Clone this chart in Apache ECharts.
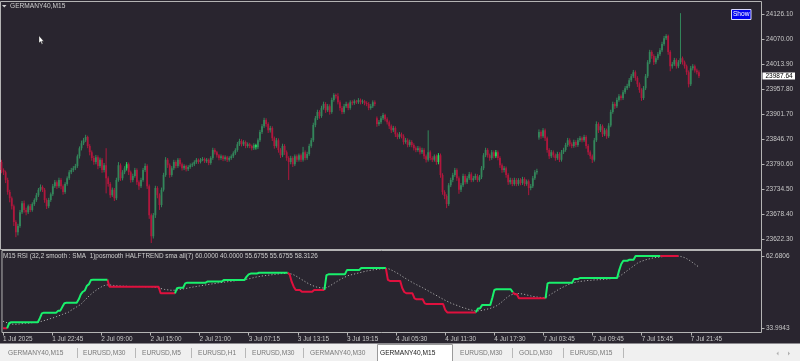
<!DOCTYPE html>
<html><head><meta charset="utf-8">
<script src="https://cdn.jsdelivr.net/npm/echarts@6/dist/echarts.min.js"></script>
<style>html,body{margin:0;padding:0;background:#29252f;overflow:hidden}#c{width:800px;height:361px}</style>
</head><body><div id="c"></div>
<script>
const symbolTitle = 'GERMANY40,M15';
const rsiTitle = 'M15 RSI (32,2 smooth : SMA  1)posmooth HALFTREND sma all(7) 60.0000 40.0000 55.6755 55.6755 58.3126';
const xTickLabels = ['1 Jul 2025','1 Jul 22:45','2 Jul 09:00','2 Jul 15:00','2 Jul 21:00','3 Jul 07:15','3 Jul 13:15','3 Jul 19:15','4 Jul 05:30','4 Jul 11:30','4 Jul 17:30','7 Jul 03:45','7 Jul 09:45','7 Jul 15:45','7 Jul 21:45'];
const priceTicks = [24126.10,24070.00,24013.90,23957.80,23901.70,23846.70,23790.60,23734.50,23678.40,23622.30];
const rsiTicks = [33.9943, 62.6806];
const lastPrice = 23987.64;
const tabs = ['GERMANY40,M15','EURUSD,M30','EURUSD,M5','EURUSD,H1','EURUSD,M30','GERMANY40,M30','GERMANY40,M15','EURUSD,M30','GOLD,M30','EURUSD,M15'];
const activeTab = 6;

const opens = [
23795,23777,23772,23755,23728,23714,23696,23661,23638,23652,
23683,23703,23688,23683,23696,23688,23701,23710,23721,23733,
23739,23733,23710,23696,23710,23723,23741,23750,23741,23755,
23741,23728,23746,23759,23772,23777,23781,23786,23808,23826,
23837,23844,23851,23831,23817,23804,23795,23806,23786,23800,
23777,23788,23759,23746,23721,23733,23714,23755,23788,23759,
23772,23781,23790,23772,23755,23764,23777,23750,23741,23755,
23777,23786,23741,23676,23629,23676,23737,23721,23699,23733,
23766,23800,23788,23766,23781,23795,23786,23800,23790,23781,
23786,23779,23784,23788,23790,23795,23800,23795,23800,23802,
23797,23800,23793,23804,23822,23817,23810,23804,23808,23802,
23806,23800,23804,23808,23815,23822,23835,23842,23835,23840,
23831,23835,23831,23826,23833,23828,23844,23862,23875,23889,
23880,23866,23871,23848,23831,23844,23822,23810,23831,23817,
23804,23795,23804,23790,23808,23800,23810,23800,23817,23804,
23813,23831,23844,23878,23893,23907,23898,23916,23925,23911,
23920,23907,23934,23945,23942,23929,23916,23907,23920,23925,
23916,23929,23927,23931,23929,23934,23929,23931,23927,23925,
23916,23920,23929,23893,23880,23884,23893,23900,23891,23884,
23875,23866,23871,23857,23851,23857,23853,23840,23844,23833,
23840,23833,23826,23822,23826,23817,23822,23808,23800,23817,
23804,23800,23808,23795,23810,23766,23728,23719,23701,23743,
23755,23766,23777,23759,23733,23743,23764,23750,23759,23768,
23755,23759,23764,23755,23761,23781,23810,23822,23810,23804,
23817,23808,23817,23804,23788,23777,23781,23766,23750,23755,
23746,23755,23746,23755,23748,23757,23746,23752,23737,23741,
23759,23772,23850,23862,23853,23866,23848,23822,23808,23817,
23810,23804,23813,23800,23817,23822,23833,23844,23835,23831,
23840,23833,23844,23848,23844,23851,23831,23817,23808,23800,
23844,23880,23866,23875,23857,23866,23853,23877,23907,23925,
23920,23934,23942,23938,23951,23960,23965,23978,23987,23996,
23983,23969,23956,23938,23960,23987,24018,24041,24032,24018,
24027,24036,24045,24059,24072,24077,24041,24009,24014,24023,
24009,24018,24027,24018,24009,23996,23969,24005,24009,24000,
23996];
const closes = [
23777,23772,23755,23728,23714,23696,23661,23638,23652,23683,
23703,23688,23683,23696,23688,23701,23710,23721,23733,23739,
23733,23710,23696,23710,23723,23741,23750,23741,23755,23741,
23728,23746,23759,23772,23777,23781,23786,23808,23826,23837,
23844,23851,23831,23817,23804,23795,23806,23786,23800,23777,
23788,23759,23746,23721,23733,23714,23755,23788,23759,23772,
23781,23790,23772,23755,23764,23777,23750,23741,23755,23777,
23786,23741,23676,23629,23676,23737,23721,23699,23733,23766,
23800,23788,23766,23781,23795,23786,23800,23790,23781,23786,
23779,23784,23788,23790,23795,23800,23795,23800,23802,23797,
23800,23793,23804,23822,23817,23810,23804,23808,23802,23806,
23800,23804,23808,23815,23822,23835,23842,23835,23840,23831,
23835,23831,23826,23833,23828,23844,23862,23875,23889,23880,
23866,23871,23848,23831,23844,23822,23810,23831,23817,23804,
23795,23804,23790,23808,23800,23810,23800,23817,23804,23813,
23831,23844,23878,23893,23907,23898,23916,23925,23911,23920,
23907,23934,23945,23942,23929,23916,23907,23920,23925,23916,
23929,23927,23931,23929,23934,23929,23931,23927,23925,23916,
23920,23929,23925,23880,23884,23893,23900,23891,23884,23875,
23866,23871,23857,23851,23857,23853,23840,23844,23833,23840,
23833,23826,23822,23826,23817,23822,23808,23800,23817,23804,
23800,23808,23795,23810,23766,23728,23719,23701,23743,23755,
23766,23777,23759,23733,23743,23764,23750,23759,23768,23755,
23759,23764,23755,23761,23781,23810,23822,23810,23804,23817,
23808,23817,23804,23788,23777,23781,23766,23750,23755,23746,
23755,23746,23755,23748,23757,23746,23752,23737,23741,23759,
23772,23775,23862,23853,23866,23848,23822,23808,23817,23810,
23804,23813,23800,23817,23822,23833,23844,23835,23831,23840,
23833,23844,23848,23844,23851,23831,23817,23808,23800,23844,
23880,23866,23875,23857,23866,23853,23877,23907,23925,23920,
23934,23942,23938,23951,23960,23965,23978,23987,23996,23983,
23969,23956,23938,23960,23987,24018,24041,24032,24018,24027,
24036,24045,24059,24072,24077,24041,24009,24014,24023,24009,
24018,24027,24018,24009,23996,23969,24005,24009,24000,23996,
23987.64];
const highs = [
23800,23781,23776,23760,23733,23718,23700,23665,23657,23688,
23708,23709,23693,23700,23701,23705,23714,23726,23737,23745,
23743,23737,23714,23715,23727,23746,23755,23754,23760,23759,
23745,23750,23763,23777,23782,23786,23791,23812,23830,23843,
23849,23856,23854,23835,23821,23809,23811,23810,23805,23804,
23793,23826,23763,23750,23738,23737,23760,23795,23792,23777,
23786,23795,23794,23776,23769,23782,23781,23754,23760,23782,
23792,23790,23745,23680,23681,23742,23741,23725,23738,23771,
23806,23804,23792,23786,23800,23799,23804,23804,23794,23790,
23789,23788,23792,23794,23799,23804,23803,23804,23806,23805,
23804,23803,23808,23827,23826,23820,23813,23812,23811,23810,
23809,23808,23812,23819,23826,23840,23847,23846,23844,23843,
23839,23838,23834,23837,23836,23848,23867,23880,23894,23893,
23884,23876,23875,23852,23849,23848,23826,23836,23835,23821,
23808,23809,23808,23812,23812,23814,23814,23829,23821,23818,
23836,23849,23883,23898,23912,23911,23921,23930,23929,23925,
23924,23939,23949,23948,23949,23933,23920,23925,23930,23928,
23933,23933,23935,23934,23938,23937,23935,23934,23931,23929,
23925,23933,23933,23897,23889,23898,23905,23903,23895,23888,
23879,23876,23875,23861,23862,23861,23857,23849,23848,23845,
23844,23837,23830,23831,23830,23827,23826,23812,23866,23821,
23808,23812,23812,23815,23814,23770,23732,23723,23748,23760,
23771,23782,23781,23763,23748,23769,23768,23764,23773,23772,
23764,23769,23768,23766,23786,23815,23827,23826,23814,23822,
23821,23822,23821,23808,23792,23786,23785,23770,23760,23759,
23760,23759,23759,23759,23762,23761,23756,23756,23746,23764,
23777,23780,23868,23866,23871,23870,23852,23826,23822,23821,
23814,23818,23817,23822,23827,23838,23849,23848,23839,23845,
23844,23849,23853,23852,23856,23855,23835,23821,23812,23849,
23886,23884,23880,23879,23871,23870,23882,23912,23930,23929,
23939,23947,23946,23956,23965,23970,23983,23992,24001,24000,
23987,23973,23960,23965,23992,24023,24046,24045,24036,24032,
24041,24050,24064,24077,24081,24080,24045,24019,24028,24027,
24023,24128,24031,24022,24013,24000,24010,24014,24013,24004,
24000];
const lows = [
23770,23766,23748,23722,23705,23689,23652,23627,23631,23648,
23679,23682,23676,23679,23683,23684,23697,23706,23717,23729,
23728,23704,23690,23692,23706,23719,23737,23735,23737,23734,
23722,23724,23742,23755,23768,23773,23777,23782,23803,23821,
23833,23840,23826,23810,23798,23789,23790,23779,23782,23771,
23772,23725,23740,23715,23717,23708,23710,23751,23753,23754,
23768,23776,23766,23749,23750,23760,23744,23733,23737,23751,
23773,23735,23668,23614,23624,23670,23714,23688,23694,23729,
23762,23782,23760,23762,23777,23781,23782,23785,23776,23777,
23774,23775,23780,23784,23786,23791,23791,23792,23797,23793,
23793,23788,23789,23800,23812,23805,23799,23800,23797,23798,
23795,23796,23800,23804,23811,23818,23831,23830,23831,23826,
23827,23826,23821,23822,23823,23824,23840,23858,23871,23874,
23860,23861,23842,23825,23827,23816,23804,23806,23811,23798,
23755,23790,23784,23786,23795,23796,23795,23796,23799,23800,
23809,23827,23840,23873,23889,23892,23894,23912,23905,23907,
23901,23903,23930,23937,23924,23910,23902,23903,23916,23911,
23912,23922,23923,23925,23925,23924,23925,23922,23920,23911,
23912,23916,23920,23874,23876,23880,23889,23886,23879,23869,
23860,23862,23851,23846,23847,23848,23834,23836,23828,23829,
23828,23821,23817,23818,23812,23813,23802,23794,23796,23799,
23795,23796,23789,23790,23760,23722,23712,23692,23697,23739,
23750,23762,23753,23724,23728,23739,23745,23746,23755,23750,
23751,23755,23750,23751,23757,23777,23806,23805,23798,23800,
23803,23804,23799,23782,23771,23772,23760,23744,23745,23741,
23742,23741,23742,23743,23744,23741,23742,23721,23732,23737,
23755,23767,23845,23847,23849,23842,23816,23802,23804,23805,
23798,23800,23795,23796,23813,23818,23829,23830,23826,23827,
23828,23829,23840,23839,23840,23825,23811,23802,23793,23796,
23840,23860,23862,23851,23853,23847,23849,23873,23903,23914,
23916,23930,23933,23934,23947,23956,23961,23974,23983,23977,
23963,23950,23932,23934,23956,23983,24014,24026,24012,24014,
24023,24032,24041,24055,24068,24035,23998,24004,24010,24004,
24005,24014,24013,24004,23990,23962,23965,24000,23995,23991,
23983];
const brightBars = [61, 124, 213, 241];

// RSI HalfTrend value per bar
const htValues = [
34.0,34.0,34.0,36.0,36.4,36.4,36.4,36.4,36.4,36.4,
36.4,36.4,36.4,36.4,36.4,36.4,36.4,36.4,38.0,39.9,
40.2,40.2,40.2,40.2,40.2,40.2,40.2,41.0,41.0,42.5,
43.9,44.1,44.1,44.1,44.1,44.1,44.1,45.5,47.5,48.5,
49.0,50.9,51.5,53.2,53.3,53.3,53.3,53.3,53.3,53.3,
53.3,53.3,50.5,50.5,50.5,50.5,50.5,50.5,50.5,50.5,
50.5,50.5,50.5,50.5,50.5,50.5,50.5,50.5,50.5,50.5,
50.5,50.5,50.5,50.5,50.5,50.5,50.5,47.9,47.9,47.9,
47.9,47.9,47.9,47.9,47.9,49.9,50.1,50.1,50.1,51.8,
52.1,52.1,52.1,52.1,52.1,52.1,52.1,52.1,52.1,52.1,
52.6,52.6,52.6,52.6,52.6,52.6,52.6,52.6,53.2,53.2,
53.2,53.2,53.2,53.2,53.2,53.2,53.2,53.2,53.2,54.5,
55.4,55.7,55.7,55.7,55.7,56.05,56.05,56.05,56.05,56.05,
56.05,56.05,56.05,56.05,56.05,56.05,56.05,56.05,56.05,56.05,
55.4,52.5,50.5,49.2,49.2,49.2,48.5,48.5,48.5,48.5,
48.5,48.5,49.2,49.2,49.2,49.2,49.2,49.2,55.1,55.4,
55.4,55.4,55.4,55.4,55.4,55.4,55.4,55.4,57.1,57.1,
57.1,57.1,57.1,57.1,57.1,57.9,57.9,57.9,57.9,57.9,
57.9,57.9,57.9,57.9,57.9,57.9,57.9,57.9,53.2,52.8,
52.8,52.8,52.8,52.8,52.8,50.0,48.4,47.9,47.9,47.9,
47.9,45.9,45.5,45.5,45.5,45.5,43.9,43.6,43.6,43.6,
43.6,43.6,43.6,43.6,43.6,43.6,41.3,40.3,40.3,40.3,
40.3,40.3,40.3,40.3,40.3,40.3,40.3,40.3,40.3,40.3,
40.3,40.3,41.9,41.9,43.2,43.2,43.2,43.2,43.2,46.0,
49.2,49.5,49.5,49.5,49.5,49.5,49.5,49.5,49.5,48.3,
47.5,47.5,45.9,45.9,45.9,45.9,45.9,45.9,45.9,45.9,
45.9,45.9,45.9,45.9,45.9,45.9,51.8,52.1,52.1,52.1,
52.1,52.1,52.1,52.1,52.1,52.1,52.1,52.1,52.1,53.6,
53.6,53.6,54.0,54.0,54.0,54.0,54.0,54.0,54.0,54.0,
54.0,54.0,54.0,54.0,54.0,54.0,54.0,54.0,54.0,54.0,
54.0,57.1,59.5,60.8,60.8,60.8,61.2,61.2,61.2,62.68,
62.68,62.68,62.68,62.68,62.68,62.68,62.68,62.68,62.68,62.68,
62.68,62.68,62.68,62.68,62.68,62.68,62.68,62.68,62.68,62.68,
62.68,62.68,59.8,59.4,59.4,59.4,59.4,57.5,56.7,56.3,
55.68];
// HalfTrend direction per bar: 1 = up (green), 0 = down (red)
const htTrend = [
0,0,0,1,1,1,1,1,1,1, 1,1,1,1,1,1,1,1,1,1, 1,1,1,1,1,1,1,1,1,1,
1,1,1,1,1,1,1,1,1,1, 1,1,1,1,1,1,1,1,1,1, 1,1,0,0,0,0,0,0,0,0,
0,0,0,0,0,0,0,0,0,0, 0,0,0,0,0,0,0,0,0,0, 0,0,0,0,0,1,1,1,1,1,
1,1,1,1,1,1,1,1,1,1, 1,1,1,1,1,1,1,1,1,1, 1,1,1,1,1,1,1,1,1,1,
1,1,1,1,1,1,1,1,1,1, 1,1,1,1,1,1,1,1,1,1, 0,0,0,0,0,0,0,0,0,0,
0,0,0,0,0,0,0,0,1,1, 1,1,1,1,1,1,1,1,1,1, 1,1,1,1,1,1,1,1,1,1,
1,1,1,1,1,1,1,1,0,0, 0,0,0,0,0,0,0,0,0,0, 0,0,0,0,0,0,0,0,0,0,
0,0,0,0,0,0,0,0,0,0, 0,0,0,0,0,0,0,0,0,0, 0,0,1,1,1,1,1,1,1,1,
1,1,1,1,1,1,1,1,1,1, 0,0,0,0,0,0,0,0,0,0, 0,0,0,0,0,0,1,1,1,1,
1,1,1,1,1,1,1,1,1,1, 1,1,1,1,1,1,1,1,1,1, 1,1,1,1,1,1,1,1,1,1,
1,1,1,1,1,1,1,1,1,1, 1,1,1,1,1,1,1,1,1,1, 1,1,0,0,0,0,0,0,0,0,
0];
// dotted signal (SMA of RSI)
const rsiSignal = [
36.8,36.5,36.2,35.9,35.7,35.6,35.6,35.6,35.7,35.8,
35.9,36.0,36.0,36.1,36.2,36.3,36.3,36.4,36.6,36.8,
37.0,37.3,37.5,37.8,38.0,38.3,38.6,38.9,39.2,39.5,
39.8,40.1,40.4,41.0,41.5,42.0,42.5,43.0,43.5,44.3,
45.2,46.0,46.8,47.5,48.2,48.8,49.4,49.9,50.4,50.8,
51.1,51.2,51.2,51.1,51.0,50.9,50.8,50.8,50.7,50.7,
50.7,50.6,50.6,50.6,50.6,50.6,50.6,50.6,50.6,50.5,
50.5,50.5,50.5,50.4,50.3,50.2,50.0,49.8,49.6,49.4,
49.3,49.2,49.1,49.1,49.1,49.2,49.4,49.5,49.6,49.8,
49.9,50.1,50.2,50.4,50.5,50.7,50.8,50.9,51.1,51.2,
51.3,51.5,51.6,51.7,51.8,52.0,52.1,52.2,52.3,52.4,
52.5,52.6,52.7,52.8,52.9,53.0,53.0,53.1,53.2,53.4,
53.6,53.8,54.0,54.2,54.4,54.5,54.7,54.8,54.9,55.0,
55.1,55.2,55.3,55.4,55.5,55.6,55.7,55.7,55.8,55.8,
55.7,55.5,55.2,54.8,54.3,53.8,53.3,52.8,52.3,51.8,
51.4,51.0,50.7,50.4,50.2,50.1,50.0,50.0,50.1,50.5,
51.0,51.5,52.0,52.5,53.0,53.5,53.9,54.3,54.7,55.0,
55.2,55.4,55.6,55.8,56.0,56.2,56.4,56.6,56.8,56.9,
57.1,57.2,57.3,57.4,57.5,57.6,57.7,57.8,57.7,57.4,
57.0,56.6,56.1,55.7,55.2,54.6,54.1,53.6,53.1,52.6,
52.2,51.7,51.3,50.9,50.5,50.1,49.6,49.2,48.7,48.2,
47.8,47.3,46.9,46.4,46.0,45.5,45.1,44.7,44.3,43.9,
43.6,43.3,43.0,42.7,42.4,42.1,41.9,41.6,41.4,41.2,
41.0,40.9,40.9,41.0,41.1,41.3,41.5,41.7,41.9,42.2,
42.5,42.9,43.4,44.0,44.7,45.4,46.1,46.7,47.2,47.5,
47.7,47.8,47.8,47.7,47.6,47.4,47.2,47.0,46.8,46.6,
46.5,46.4,46.3,46.2,46.2,46.3,46.7,47.2,47.7,48.2,
48.7,49.2,49.7,50.1,50.5,50.9,51.3,51.6,51.9,52.1,
52.3,52.5,52.6,52.7,52.8,52.9,53.0,53.0,53.1,53.2,
53.2,53.3,53.3,53.4,53.5,53.5,53.6,53.7,53.8,53.9,
54.2,54.6,55.1,55.7,56.3,56.9,57.5,58.1,58.7,59.3,
59.9,60.3,60.6,60.9,61.2,61.4,61.6,61.8,62.0,62.1,
62.2,62.3,62.4,62.5,62.5,62.6,62.6,62.6,62.6,62.6,
62.6,62.5,62.3,62.0,61.6,61.1,60.6,60.0,59.4,58.8,
58.31];

const totalSlots = 371; // bar slots across the chart width (incl. right shift)
const categories = Array.from({length: totalSlots}, (_, i) => 'bar' + i);

const FONT = '"Liberation Sans", Arial, sans-serif';
const TXT = '#c8c8c8';
const FRAME = '#b4b4b4';
const UP = '#33875b', DOWN = '#b0173d', BRIGHT = '#22e05e';
const HT_UP = '#19f06c', HT_DN = '#e0103e';

const candleData = closes.map((c, i) => [i, opens[i], c, lows[i], highs[i]]);
function renderCandle(params, api) {
  const i = api.value(0);
  const o = api.value(1), c = api.value(2), l = api.value(3), h = api.value(4);
  const pO = api.coord([i, o]), pC = api.coord([i, c]);
  const pL = api.coord([i, l]), pH = api.coord([i, h]);
  const x = pO[0];
  const col = brightBars.includes(params.dataIndex) ? BRIGHT : (c >= o ? UP : DOWN);
  const top = Math.min(pO[1], pC[1]);
  const hgt = Math.max(Math.abs(pO[1] - pC[1]), 1);
  return {type: 'group', children: [
    {type: 'line', shape: {x1: x, y1: pH[1], x2: x, y2: pL[1]}, style: {stroke: col, lineWidth: 1}},
    {type: 'rect', shape: {x: x - 0.9, y: top, width: 1.8, height: hgt}, style: {fill: col}}
  ]};
}

const n = htValues.length;
const htGreen = htValues.map((v, i) => (htTrend[i] === 1 || (i + 1 < n && htTrend[i + 1] === 1)) ? v : null);
const htRed = htValues.map((v, i) => (htTrend[i] === 0 || (i + 1 < n && htTrend[i + 1] === 0)) ? v : null);

const showTick = (index) => index % 24 === 0 && index / 24 < xTickLabels.length;

const graphics = [];
graphics.push({type: 'polygon', shape: {points: [[2, 5], [6.5, 5], [4.25, 7.5]]}, style: {fill: '#d0d0d0'}, silent: true});
graphics.push({type: 'text', x: 10, y: 6.3, style: {text: symbolTitle, fill: '#cfcfcf', fontSize: 6.6, fontFamily: FONT, verticalAlign: 'middle'}, silent: true});
graphics.push({type: 'text', x: 3, y: 256.6, style: {text: rsiTitle, fill: '#cfcfcf', fontSize: 6.4, fontFamily: FONT, verticalAlign: 'middle'}, silent: true});
graphics.push({type: 'rect', shape: {x: 731.5, y: 9.5, width: 19.5, height: 10}, style: {fill: '#0000f0', stroke: '#d8d8ff', lineWidth: 1}, silent: true});
graphics.push({type: 'text', x: 741.2, y: 14.6, style: {text: 'Show', fill: '#ffffff', fontSize: 6.6, fontFamily: FONT, align: 'center', verticalAlign: 'middle'}, silent: true});
graphics.push({type: 'polygon', shape: {points: [[39, 35.8], [39, 43], [40.6, 41.6], [41.8, 44.2], [42.8, 43.7], [41.7, 41.3], [43.7, 41.2]]}, style: {fill: '#ffffff', stroke: '#202020', lineWidth: 0.4}, silent: true});
// bottom tab bar
graphics.push({type: 'rect', shape: {x: 0, y: 343.5, width: 800, height: 17.5}, style: {fill: '#f0f0f0'}, silent: true});
const tabX = [8, 83, 142, 198, 252, 310, 380, 460, 519, 570];
const sepX = [77, 135, 191, 245, 303, 512, 563, 623];
graphics.push({type: 'rect', shape: {x: 377.5, y: 344.5, width: 75, height: 17}, style: {fill: '#ffffff', stroke: '#9a9a9a', lineWidth: 1}, silent: true});
tabs.forEach((t, i) => {
  graphics.push({type: 'text', x: tabX[i], y: 353.2, style: {text: t, fill: i === activeTab ? '#202020' : '#787878', fontSize: 6.6, fontFamily: FONT, verticalAlign: 'middle'}, silent: true});
});
sepX.forEach(x => graphics.push({type: 'line', shape: {x1: x + 0.5, y1: 348, x2: x + 0.5, y2: 358}, style: {stroke: '#b8b8b8', lineWidth: 1}, silent: true}));
graphics.push({type: 'polygon', shape: {points: [[778.5, 351.5], [778.5, 355.5], [776.5, 353.5]]}, style: {fill: '#b0b0b0'}, silent: true});
graphics.push({type: 'polygon', shape: {points: [[788, 351.5], [788, 355.5], [790, 353.5]]}, style: {fill: '#b0b0b0'}, silent: true});

const chart = echarts.init(document.getElementById('c'), null, {renderer: 'canvas'});
chart.setOption({
  backgroundColor: '#29252f',
  animation: false,
  textStyle: {fontFamily: FONT},
  grid: [
    {left: 0.5, top: 1.5, width: 761, height: 248, show: true, borderColor: FRAME, borderWidth: 1, containLabel: false},
    {left: 0.5, top: 250.5, width: 761, height: 82, show: true, borderColor: FRAME, borderWidth: 1, containLabel: false}
  ],
  xAxis: [
    {type: 'category', gridIndex: 0, data: categories, boundaryGap: true,
     axisLine: {show: false}, axisTick: {show: false}, axisLabel: {show: false}, splitLine: {show: false}},
    {type: 'category', gridIndex: 1, data: categories, boundaryGap: true,
     axisLine: {show: false},
     axisTick: {show: true, interval: showTick, alignWithLabel: true, length: 3, lineStyle: {color: FRAME}},
     axisLabel: {show: true, interval: showTick, formatter: (v, idx) => xTickLabels[idx / 24], align: 'left',
                 color: TXT, fontSize: 6.4, fontFamily: FONT, margin: 3.5},
     splitLine: {show: false}}
  ],
  yAxis: [
    {type: 'value', gridIndex: 0, position: 'right', min: 23599.5, max: 24154.05, scale: true,
     axisLine: {show: false}, splitLine: {show: false},
     axisTick: {show: true, customValues: priceTicks, length: 3, lineStyle: {color: FRAME}},
     axisLabel: {show: true, customValues: priceTicks, formatter: v => v.toFixed(2), color: TXT, fontSize: 6.5, fontFamily: FONT, margin: 4.5}},
    {type: 'value', gridIndex: 1, position: 'right', min: 32.33, max: 64.86, scale: true,
     axisLine: {show: false}, splitLine: {show: false},
     axisTick: {show: true, customValues: rsiTicks, length: 3, lineStyle: {color: FRAME}},
     axisLabel: {show: true, customValues: rsiTicks, formatter: v => v.toFixed(4), color: TXT, fontSize: 6.5, fontFamily: FONT, margin: 4.5}}
  ],
  series: [
    {type: 'custom', name: 'GERMANY40', xAxisIndex: 0, yAxisIndex: 0, data: candleData, renderItem: renderCandle,
     encode: {x: 0, y: [1, 2, 3, 4]}, clip: true, silent: true},
    {type: 'line', xAxisIndex: 1, yAxisIndex: 1, data: rsiSignal, symbol: 'none', silent: true,
     lineStyle: {color: '#a8a8a8', width: 1, type: [1.2, 2]}},
    {type: 'line', xAxisIndex: 1, yAxisIndex: 1, data: htRed, symbol: 'none', silent: true, connectNulls: false,
     lineStyle: {color: HT_DN, width: 2}},
    {type: 'line', xAxisIndex: 1, yAxisIndex: 1, data: htGreen, symbol: 'none', silent: true, connectNulls: false,
     lineStyle: {color: HT_UP, width: 2}}
  ],
  graphic: graphics
});

// current price label on the price axis, positioned through the axis scale
const py = chart.convertToPixel({yAxisIndex: 0}, lastPrice);
graphics.push({type: 'rect', shape: {x: 762.5, y: Math.round(py) - 3.5, width: 32.5, height: 7}, style: {fill: '#ffffff'}, silent: true, z: 100});
graphics.push({type: 'text', x: 765.5, y: Math.round(py), style: {text: lastPrice.toFixed(2), fill: '#000000', fontSize: 6.5, fontFamily: FONT, verticalAlign: 'middle'}, silent: true, z: 101});
chart.setOption({graphic: graphics});
</script>
</body></html>
